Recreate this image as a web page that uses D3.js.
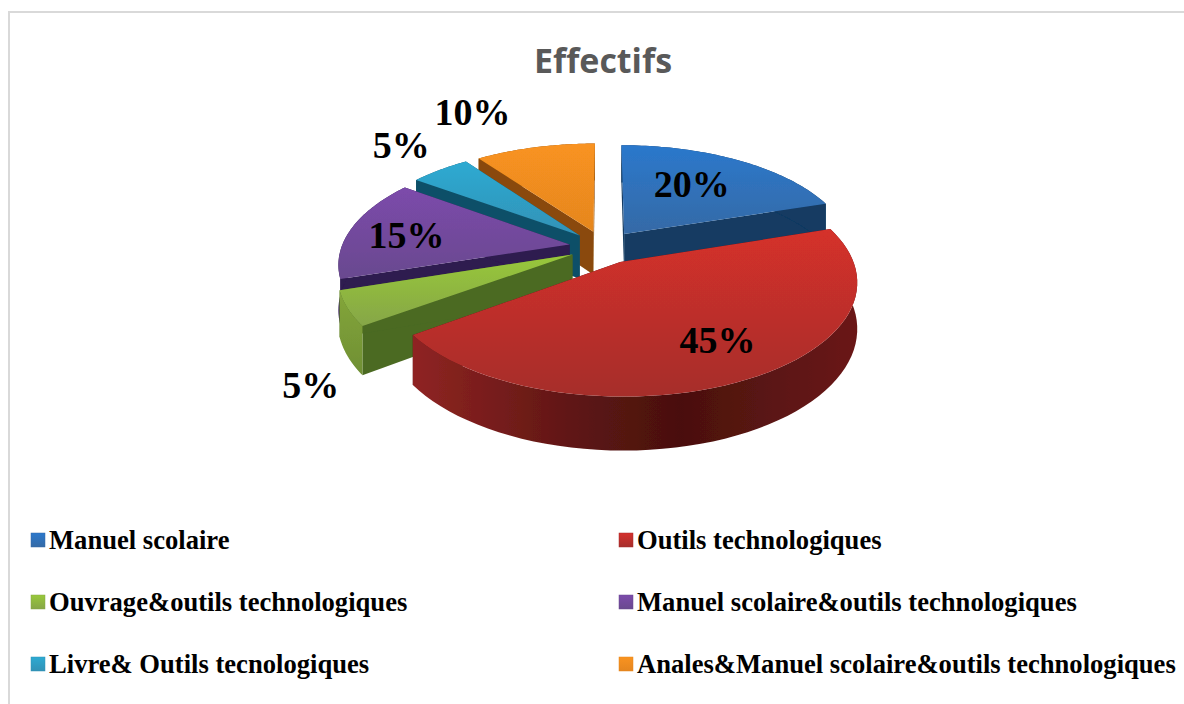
<!DOCTYPE html>
<html>
<head>
<meta charset="utf-8">
<script src="https://cdn.jsdelivr.net/npm/d3@7"></script>
<style>
  html, body { margin: 0; padding: 0; background: #fff; }
  svg { display: block; }
</style>
</head>
<body>
<div id="chart"></div>
<script>
const title = "Effectifs";
const categories = ["Manuel scolaire", "Outils technologiques", "Ouvrage&outils technologiques", "Manuel scolaire&outils technologiques", "Livre& Outils tecnologiques", "Anales&Manuel scolaire&outils technologiques"];
const values = [20, 45, 5, 15, 5, 10];
const lightColors = ["#2b78cc", "#d5302c", "#98c83a", "#7c4bab", "#2daad2", "#f99320"];
const darkColors = ["#356aa6", "#a62e2c", "#86a647", "#69498f", "#3192b6", "#e5861f"];
const wallColors = ["#123a62", "#4d100e", "#4b6a22", "#2e1a50", "#0f5068", "#8a4a0a"];
// paint order, back to front
const drawOrder = [5, 4, 0, 3, 2, 1];
// data label nudges from the slice centre
const labelNudges = [[-4, 9], [26, 25], [-131, 112], [-31, 13], [-91, -36], [-84, -53]];

const width = 1184, height = 704;
const cx = 604, cy = 247, radius = 228, explode = 35, tilt = 0.47, camera = 1397, depth = 44;

const svg = d3.select("#chart").append("svg").attr("width", width).attr("height", height);
const defs = svg.append("defs");

defs.append("filter").attr("id", "soft").append("feGaussianBlur").attr("stdDeviation", 0.6);

categories.forEach((c, i) => {
  const g = defs.append("linearGradient").attr("id", `top${i}`).attr("x1", 0).attr("y1", 0).attr("x2", 0).attr("y2", 1);
  g.append("stop").attr("offset", "0%").attr("stop-color", lightColors[i]);
  g.append("stop").attr("offset", "100%").attr("stop-color", darkColors[i]);
});
const redWall = defs.append("linearGradient").attr("id", "redWall").attr("x1", 0).attr("y1", 0).attr("x2", 1).attr("y2", 0);
redWall.append("stop").attr("offset", "0%").attr("stop-color", "#8f2422");
redWall.append("stop").attr("offset", "40%").attr("stop-color", "#5a1513");
redWall.append("stop").attr("offset", "60%").attr("stop-color", "#4a100e");
redWall.append("stop").attr("offset", "100%").attr("stop-color", "#6a1917");

const greenWall = defs.append("linearGradient").attr("id", "greenWall").attr("x1", 0).attr("y1", 0).attr("x2", 0).attr("y2", 1);
greenWall.append("stop").attr("offset", "0%").attr("stop-color", "#84a63a");
greenWall.append("stop").attr("offset", "100%").attr("stop-color", "#6f8f34");

// frame, open on the right and bottom
svg.append("path")
  .attr("d", `M9,${height}V12H${width}`)
  .attr("fill", "none").attr("stroke", "#d9d9d9").attr("stroke-width", 2);

svg.append("text")
  .attr("x", 603).attr("y", 73)
  .attr("text-anchor", "middle")
  .attr("font-family", "'Open Sans', sans-serif").attr("font-weight", 700).attr("font-size", 34)
  .attr("fill", "#595959")
  .text(title);

const slices = d3.pie().sort(null).value(d => d)(values);

// ground plane to screen, with a bit of perspective
function project(d, angle, r, drop = 0) {
  const mid = (d.startAngle + d.endAngle) / 2;
  const X = explode * Math.sin(mid) + r * Math.sin(angle);
  const Y = -explode * Math.cos(mid) - r * Math.cos(angle);
  const s = 1 / (1 - Y / camera);
  return [cx + s * X, cy + tilt * s * Y + drop * s];
}

const line = d3.line();
const arcAngles = d => d3.range(0, 61).map(t => d.startAngle + (d.endAngle - d.startAngle) * t / 60);

const pie = svg.append("g").attr("filter", "url(#soft)");

drawOrder.forEach(i => {
  const d = slices[i];
  const g = pie.append("g");
  const angles = arcAngles(d);
  const rim = angles.map(a => project(d, a, radius));
  const rimLow = angles.map(a => project(d, a, radius, depth)).reverse();
  const apex = project(d, 0, 0);
  const apexLow = project(d, 0, 0, depth);

  [d.startAngle, d.endAngle].forEach(a => {
    g.append("path")
      .attr("d", line([apex, project(d, a, radius), project(d, a, radius, depth), apexLow]) + "Z")
      .attr("fill", wallColors[i]);
  });
  g.append("path")
    .attr("d", line(rim.concat(rimLow)) + "Z")
    .attr("fill", i === 1 ? "url(#redWall)" : i === 2 ? "url(#greenWall)" : wallColors[i]);
  g.append("path")
    .attr("d", line([apex].concat(rim)) + "Z")
    .attr("fill", `url(#top${i})`);
});

svg.append("g").selectAll("text")
  .data(slices)
  .join("text")
  .attr("x", (d, i) => project(d, (d.startAngle + d.endAngle) / 2, radius * 0.6)[0] + labelNudges[i][0])
  .attr("y", (d, i) => project(d, (d.startAngle + d.endAngle) / 2, radius * 0.6)[1] + labelNudges[i][1])
  .attr("text-anchor", "middle")
  .attr("font-family", "'Liberation Serif', serif").attr("font-weight", 700).attr("font-size", 38)
  .attr("fill", "#000")
  .text(d => `${d.value}%`);

// legend, two columns by three rows
const rowScale = d3.scalePoint().domain([0, 1, 2]).range([540, 664]);
const colScale = d3.scalePoint().domain([0, 1]).range([31, 619]);

const legend = svg.append("g").selectAll("g")
  .data(categories)
  .join("g")
  .attr("transform", (c, i) => `translate(${colScale(i % 2)},${rowScale(Math.floor(i / 2))})`);

legend.append("rect")
  .attr("y", -7).attr("width", 14).attr("height", 14)
  .attr("fill", (c, i) => `url(#top${i})`)
  .attr("stroke", (c, i) => darkColors[i]).attr("stroke-width", 0.5);

legend.append("text")
  .attr("x", 18).attr("y", 9)
  .attr("font-family", "'Liberation Serif', serif").attr("font-weight", 700).attr("font-size", 26.6)
  .attr("fill", "#000")
  .text(c => c);
</script>
</body>
</html>
